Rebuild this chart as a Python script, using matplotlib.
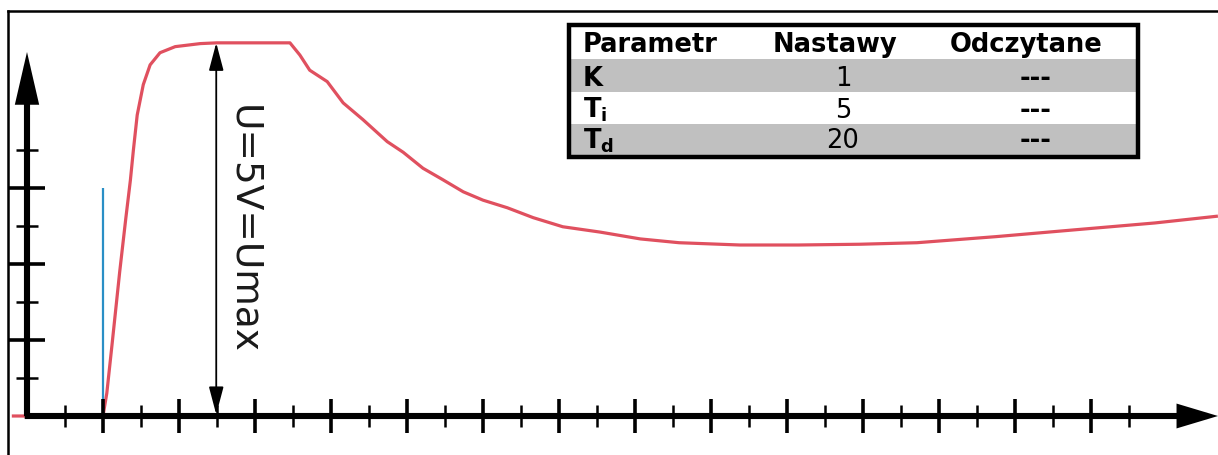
import numpy as np
import matplotlib
matplotlib.use("Agg")
import matplotlib.pyplot as plt
from matplotlib.patches import Rectangle
from matplotlib.lines import Line2D

# step response of the controller (time in tick units, output in tick units)
t_resp = [-0.20, 1.00, 1.05, 1.12, 1.22, 1.30, 1.36, 1.40, 1.45, 1.53, 1.62,
          1.75, 1.95, 2.28, 2.50, 2.93, 3.46, 3.59, 3.72, 3.95, 4.16, 4.42,
          4.74, 4.95, 5.21, 5.47, 5.74, 6.00, 6.32, 6.66, 7.05, 7.54, 8.07,
          8.58, 9.38, 10.15, 10.96, 11.71, 12.75, 13.79, 14.84, 15.67]
u_resp = [0.0, 0.0, 0.30, 0.95, 1.90, 2.60, 3.10, 3.50, 3.96, 4.36, 4.62,
          4.78, 4.86, 4.90, 4.91, 4.91, 4.91, 4.75, 4.55, 4.40, 4.12, 3.90,
          3.61, 3.47, 3.26, 3.11, 2.95, 2.84, 2.74, 2.61, 2.49, 2.42, 2.33,
          2.28, 2.25, 2.25, 2.26, 2.28, 2.36, 2.45, 2.54, 2.63]

# input step (blue)
t_step = 1.0
u_step = 3.0

# level of Umax
u_max = 4.91
t_umax = 2.49

x_major = np.arange(1, 15)
x_minor = np.arange(0.5, 15, 1.0)
y_major = [1, 2, 3]
y_minor = [0.5, 1.5, 2.5, 3.5]

# settings table
col_labels = ["Parametr", "Nastawy", "Odczytane"]
params = ["K", r"$\mathbf{T_i}$", r"$\mathbf{T_d}$"]
nastawy = ["1", "5", "20"]
odczytane = ["---", "---", "---"]

W, H = 1218, 455
px = 76.0  # pixels per unit
x0, y0 = 27, 416

fig = plt.figure(figsize=(W / 100, H / 100), dpi=100)
ax = fig.add_axes([0, 0, 1, 1])
ax.set_xlim(-x0 / px, (W - x0) / px)
ax.set_ylim((y0 - H) / px, y0 / px)
ax.axis("off")

red = "#e0505f"
blue = "#2a8fc6"

ax.plot(t_resp, u_resp, color=red, lw=2.3, solid_capstyle="butt",
        solid_joinstyle="round", zorder=2)
ax.vlines(t_step, 0, u_step, color=blue, lw=1.6, zorder=3)

# axes with arrows
ax.annotate("", xy=((W - x0) / px, 0), xytext=(-0.03, 0),
            arrowprops=dict(arrowstyle="-|>,head_length=2.0,head_width=0.6",
                            lw=4.4, color="black", shrinkA=0, shrinkB=0,
                            joinstyle="miter", capstyle="butt"), zorder=5)
ax.annotate("", xy=(0, (y0 - 52) / px), xytext=(0, 0),
            arrowprops=dict(arrowstyle="-|>,head_length=2.6,head_width=0.6",
                            lw=4.4, color="black", shrinkA=0, shrinkB=0,
                            joinstyle="miter", capstyle="butt"), zorder=5)

ax.vlines(x_major, -0.22, 0.22, color="black", lw=2.6, zorder=4)
ax.vlines(x_minor, -0.14, 0.14, color="black", lw=1.8, zorder=4)
ax.hlines(y_major, -0.24, 0.24, color="black", lw=2.6, zorder=4)
ax.hlines(y_minor, -0.14, 0.14, color="black", lw=1.8, zorder=4)

# Umax double arrow
ax.annotate("", xy=(t_umax, u_max), xytext=(t_umax, 0.02),
            arrowprops=dict(arrowstyle="<|-|>,head_length=1.7,head_width=0.45",
                            lw=1.3, color="black", shrinkA=0, shrinkB=0), zorder=4)
ax.text(t_umax + 0.36, u_max / 2, "U=5V=Umax", rotation=270, fontsize=27,
        ha="center", va="center", color="#1a1a1a")

# outer frame
fig.add_artist(Line2D([8 / W, 1], [1 - 11 / H, 1 - 11 / H], color="black", lw=1.8))
fig.add_artist(Line2D([8 / W, 8 / W], [0, 1 - 11 / H], color="black", lw=1.8))


def fx(x):
    return x / W


def fy(y):
    return 1 - y / H


# table
row_edges = [27, 59, 92, 124, 155]
ax.add_patch(Rectangle((fx(569), fy(157)), fx(1137) - fx(569), fy(24.5) - fy(157),
                       transform=ax.transAxes, facecolor="white", edgecolor="none",
                       zorder=5))
for i in range(1, 4):
    if i % 2 == 1:
        ax.add_patch(Rectangle((fx(569), fy(row_edges[i + 1])), fx(1137) - fx(569),
                               fy(row_edges[i]) - fy(row_edges[i + 1]),
                               transform=ax.transAxes, facecolor="#c0c0c0",
                               edgecolor="none", zorder=6))
ax.add_patch(Rectangle((fx(568.5), fy(157)), fx(1138) - fx(568.5), fy(24.5) - fy(157),
                       transform=ax.transAxes, facecolor="none", edgecolor="black",
                       lw=3.2, zorder=7))

fs = 18.5
ax.text(fx(583), fy(row_edges[1] - 6.5), col_labels[0], transform=ax.transAxes,
        fontsize=fs, fontweight="bold", ha="left", va="baseline", zorder=8)
ax.text(fx(835), fy(row_edges[1] - 6.5), col_labels[1], transform=ax.transAxes,
        fontsize=fs, fontweight="bold", ha="center", va="baseline", zorder=8)
ax.text(fx(1026), fy(row_edges[1] - 6.5), col_labels[2], transform=ax.transAxes,
        fontsize=fs, fontweight="bold", ha="center", va="baseline", zorder=8)
for i in range(3):
    yb = fy(row_edges[i + 2] - 6.5)
    ax.text(fx(583), yb, params[i], transform=ax.transAxes, fontsize=fs,
            fontweight="bold", ha="left", va="baseline", zorder=8)
    ax.text(fx(843), yb, nastawy[i], transform=ax.transAxes, fontsize=fs,
            ha="center", va="baseline", zorder=8)
    ax.text(fx(1036), yb, odczytane[i], transform=ax.transAxes, fontsize=fs,
            fontweight="bold", ha="center", va="baseline", zorder=8)

fig.savefig("out.png", dpi=100, facecolor="white")
